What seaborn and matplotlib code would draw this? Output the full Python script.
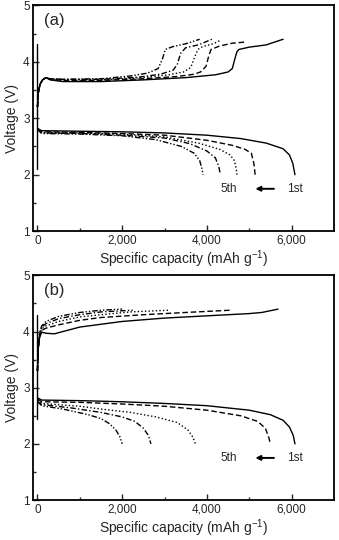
import pandas as pd
import matplotlib.pyplot as plt
import seaborn as sns
from matplotlib.ticker import FixedLocator, FuncFormatter

# Panel (a): charge curves, cycles 1-5
a_chg_x = [
    [0, 20, 60, 120, 200, 300, 600, 1500, 2500, 3500, 4200, 4500, 4600, 4660, 4710, 4760, 5000, 5400, 5800],
    [0, 20, 60, 120, 200, 300, 600, 1500, 2500, 3300, 3700, 3850, 3980, 4050, 4100, 4300, 4600, 4900],
    [0, 20, 60, 120, 200, 300, 600, 1500, 2500, 3100, 3450, 3620, 3720, 3790, 3900, 4150, 4320],
    [0, 20, 60, 120, 200, 300, 600, 1500, 2400, 2900, 3200, 3300, 3380, 3500, 3800, 4120],
    [0, 20, 60, 120, 200, 300, 600, 1500, 2200, 2600, 2850, 2950, 3020, 3200, 3500, 3830],
]
a_chg_y = [
    [3.2, 3.45, 3.6, 3.68, 3.72, 3.68, 3.65, 3.65, 3.68, 3.72, 3.77, 3.82, 3.88, 4.05, 4.18, 4.22, 4.26, 4.3, 4.4],
    [3.2, 3.45, 3.6, 3.68, 3.72, 3.69, 3.67, 3.67, 3.7, 3.74, 3.78, 3.82, 3.92, 4.12, 4.22, 4.28, 4.33, 4.35],
    [3.2, 3.45, 3.6, 3.68, 3.72, 3.69, 3.68, 3.68, 3.72, 3.77, 3.82, 3.9, 4.1, 4.22, 4.27, 4.32, 4.38],
    [3.2, 3.45, 3.6, 3.68, 3.72, 3.7, 3.69, 3.69, 3.73, 3.78, 3.85, 3.95, 4.15, 4.25, 4.3, 4.4],
    [3.2, 3.45, 3.6, 3.68, 3.72, 3.7, 3.69, 3.7, 3.75, 3.8, 3.88, 4.05, 4.22, 4.27, 4.32, 4.4],
]
# Panel (a): discharge curves
a_dis_x = [
    [0, 100, 1000, 2000, 3000, 4000, 4800, 5400, 5800, 5950, 6030, 6080],
    [0, 100, 1000, 2000, 3000, 4000, 4600, 4900, 5050, 5110, 5140],
    [0, 100, 1000, 2000, 3000, 3800, 4300, 4550, 4650, 4690, 4710],
    [0, 100, 1000, 2000, 3000, 3600, 4000, 4200, 4280, 4320],
    [0, 100, 1000, 2000, 2800, 3400, 3700, 3830, 3880, 3910],
]
a_dis_y = [
    [2.82, 2.78, 2.77, 2.76, 2.74, 2.7, 2.64, 2.56, 2.46, 2.35, 2.2, 2.0],
    [2.8, 2.76, 2.75, 2.73, 2.7, 2.61, 2.52, 2.45, 2.38, 2.2, 2.0],
    [2.8, 2.75, 2.74, 2.72, 2.67, 2.56, 2.45, 2.35, 2.25, 2.12, 2.0],
    [2.8, 2.74, 2.73, 2.7, 2.65, 2.55, 2.42, 2.3, 2.15, 2.0],
    [2.8, 2.73, 2.72, 2.69, 2.62, 2.5, 2.38, 2.25, 2.12, 2.0],
]

# Panel (b): charge curves
b_chg_x = [
    [0, 20, 50, 100, 200, 400, 700, 1000, 2000, 3000, 4000, 4500, 5000, 5300, 5680],
    [0, 20, 50, 100, 200, 500, 1000, 1500, 2500, 3500, 4550],
    [0, 20, 50, 100, 200, 500, 1000, 1500, 2200, 3100],
    [0, 20, 50, 100, 200, 500, 1000, 1500, 2250],
    [0, 20, 50, 100, 200, 500, 1000, 1500, 2000],
]
b_chg_y = [
    [3.3, 3.7, 3.9, 3.99, 3.97, 3.96, 4.02, 4.08, 4.18, 4.24, 4.28, 4.3, 4.32, 4.34, 4.4],
    [3.3, 3.7, 3.9, 4.02, 4.06, 4.12, 4.2, 4.25, 4.3, 4.34, 4.38],
    [3.3, 3.7, 3.92, 4.05, 4.1, 4.18, 4.26, 4.3, 4.35, 4.38],
    [3.3, 3.72, 3.95, 4.08, 4.14, 4.23, 4.3, 4.35, 4.38],
    [3.3, 3.75, 3.98, 4.1, 4.18, 4.27, 4.34, 4.38, 4.4],
]
# Panel (b): discharge curves
b_dis_x = [
    [0, 100, 1000, 2000, 3000, 4000, 5000, 5500, 5800, 5950, 6040, 6080],
    [0, 100, 1000, 2000, 3000, 4000, 4800, 5200, 5380, 5460, 5500],
    [0, 100, 1000, 1500, 2200, 2800, 3300, 3550, 3670, 3730],
    [0, 100, 800, 1500, 2000, 2300, 2500, 2620, 2680],
    [0, 100, 600, 1200, 1500, 1700, 1850, 1950, 2000],
]
b_dis_y = [
    [2.82, 2.78, 2.77, 2.75, 2.72, 2.68, 2.6, 2.52, 2.42, 2.3, 2.15, 2.0],
    [2.8, 2.75, 2.74, 2.71, 2.67, 2.6, 2.5, 2.4, 2.28, 2.12, 2.0],
    [2.78, 2.72, 2.67, 2.62, 2.56, 2.48, 2.38, 2.25, 2.12, 2.0],
    [2.76, 2.7, 2.64, 2.56, 2.48, 2.4, 2.28, 2.15, 2.0],
    [2.75, 2.68, 2.62, 2.52, 2.45, 2.36, 2.25, 2.12, 2.0],
]

# vertical rest segment at zero capacity
a_rest_y = [2.1, 4.32]
b_rest_y = [2.45, 4.3]

cycles = ["1st", "2nd", "3rd", "4th", "5th"]
dash_styles = ["", (4, 2), (1, 1.6), (4, 1.6, 1, 1.6), (4, 1.4, 1, 1.4, 1, 1.4)]


def build_frame(chg_x, chg_y, dis_x, dis_y, rest_y):
    rows = []
    for i, c in enumerate(cycles):
        for x, y in zip(chg_x[i], chg_y[i]):
            rows.append({"cap": x, "volt": y, "cycle": c, "curve": c + "-chg"})
        for x, y in zip(dis_x[i], dis_y[i]):
            rows.append({"cap": x, "volt": y, "cycle": c, "curve": c + "-dis"})
    for y in rest_y:
        rows.append({"cap": 0, "volt": y, "cycle": "1st", "curve": "rest"})
    return pd.DataFrame(rows)


df_a = build_frame(a_chg_x, a_chg_y, a_dis_x, a_dis_y, a_rest_y)
df_b = build_frame(b_chg_x, b_chg_y, b_dis_x, b_dis_y, b_rest_y)

sns.set_style("white")
plt.rcParams["font.family"] = ["Liberation Sans", "DejaVu Sans"]

fig = plt.figure(figsize=(3.39, 5.40), dpi=100)
ax_a = fig.add_axes([0.098, 0.572, 0.887, 0.418])
ax_b = fig.add_axes([0.098, 0.074, 0.887, 0.416])

for ax, df, tag in [(ax_a, df_a, "(a)"), (ax_b, df_b, "(b)")]:
    sns.lineplot(data=df, x="cap", y="volt", style="cycle", units="curve",
                 estimator=None, sort=False, color="black", linewidth=1.0,
                 dashes=dict(zip(cycles, dash_styles)), legend=False, ax=ax)
    ax.set_xlim(-100, 7000)
    ax.set_ylim(1, 5)
    ax.xaxis.set_major_locator(FixedLocator([0, 2000, 4000, 6000]))
    ax.xaxis.set_minor_locator(FixedLocator([1000, 3000, 5000]))
    ax.yaxis.set_major_locator(FixedLocator([1, 2, 3, 4, 5]))
    ax.yaxis.set_minor_locator(FixedLocator([1.5, 2.5, 3.5, 4.5]))
    ax.xaxis.set_major_formatter(FuncFormatter(lambda v, p: f"{int(v):,}"))
    ax.tick_params(which="both", direction="in", bottom=True, left=True,
                   labelsize=8.5, pad=2.5)
    ax.tick_params(which="major", length=4, width=1)
    ax.tick_params(which="minor", length=2.5, width=1)
    for s in ax.spines.values():
        s.set_linewidth(1.3)
        s.set_color("black")
    ax.set_xlabel("Specific capacity (mAh g$^{\\mathregular{-1}}$)",
                  fontsize=10, labelpad=1)
    ax.set_ylabel("Voltage (V)", fontsize=10, labelpad=3)
    ax.text(0.035, 0.965, tag, transform=ax.transAxes, fontsize=12,
            va="top", ha="left")
    ax.text(4520, 1.75, "5th", fontsize=8.5, ha="center", va="center")
    ax.text(6080, 1.75, "1st", fontsize=8.5, ha="center", va="center")
    ax.annotate("", xy=(5080, 1.75), xytext=(5650, 1.75),
                arrowprops=dict(arrowstyle="-|>", color="black", lw=1.4,
                                mutation_scale=7))

fig.savefig("out.png", dpi=100)
